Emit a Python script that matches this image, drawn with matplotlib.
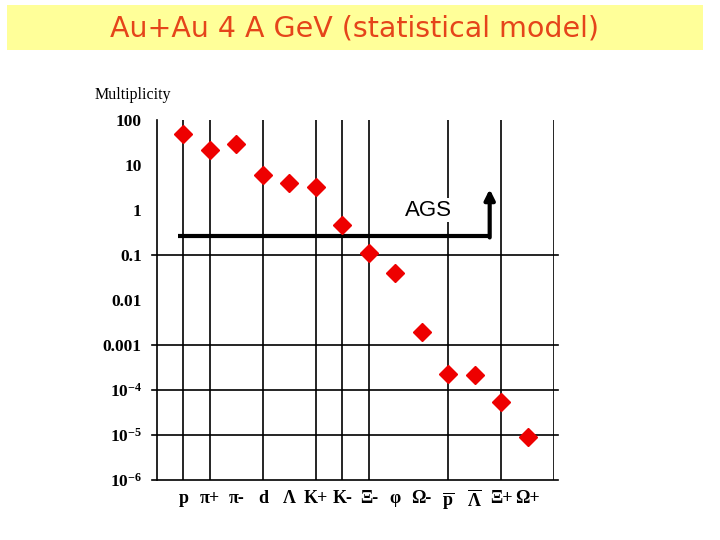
import matplotlib.pyplot as plt
from matplotlib.patches import Rectangle

# particle multiplicities
particles = ["p", "π+", "π-", "d", "Λ", "K+", "K-", "Ξ-", "φ", "Ω-",
             r"$\overline{\mathrm{p}}$", r"$\overline{\mathrm{Λ}}$", "Ξ+", "Ω+"]
multiplicity = [49, 21.5, 29, 6.0, 3.9, 3.3, 0.46, 0.11, 0.039, 0.0019,
                2.3e-4, 2.2e-4, 5.5e-5, 9.2e-6]

ytick_vals = [100, 10, 1, 0.1, 0.01, 0.001, 1e-4, 1e-5, 1e-6]
ytick_labels = ["100", "10", "1", "0.1", "0.01", "0.001",
                r"10$^{-4}$", r"10$^{-5}$", r"10$^{-6}$"]
hgrid = [0.1, 1e-3, 1e-4, 1e-5, 1e-6]
vgrid = [0, 1, 3, 5, 6, 7, 10, 12, 14]

# AGS line (level and arrow end)
ags_level = 0.264
ags_top = 2.9

plt.rcParams['mathtext.fontset'] = 'custom'
plt.rcParams['mathtext.rm'] = 'Liberation Serif:bold'
plt.rcParams['mathtext.it'] = 'Liberation Serif:bold'
plt.rcParams['mathtext.bf'] = 'Liberation Serif:bold'

fig = plt.figure(figsize=(7.2, 5.4), dpi=100)
fig.patch.set_facecolor("white")

# title band
fig.patches.append(Rectangle((7 / 720, 1 - 50 / 540), 696 / 720, 45 / 540,
                             transform=fig.transFigure, facecolor="#FFFF99",
                             edgecolor="none", zorder=0))
fig.text(355 / 720, 1 - 28 / 540, "Au+Au 4 A GeV (statistical model)",
         ha="center", va="center", fontsize=20.5, color="#E5441A",
         family="DejaVu Sans")

ax = fig.add_axes([157 / 720, 60 / 540, 397 / 720, 360 / 540])
ax.set_yscale("log")
ax.set_ylim(1e-6, 100)
ax.set_xlim(-1, 14)

for s in ["top", "right", "bottom"]:
    ax.spines[s].set_visible(False)
ax.spines["left"].set_linewidth(1.2)

for v in vgrid:
    ax.axvline(v, color="black", lw=1.2, zorder=1)
for h in hgrid:
    ax.axhline(h, xmin=-0.013, xmax=1.01, color="black", lw=1.2,
               clip_on=False, zorder=1)

ax.set_yticks(ytick_vals)
ax.set_yticklabels(ytick_labels)
ax.minorticks_off()
ax.tick_params(axis="y", length=0, pad=11)
ax.set_xticks(range(len(particles)))
ax.set_xticklabels(particles)
ax.tick_params(axis="x", length=0, pad=7)
for lab in ax.get_yticklabels():
    lab.set_family("Liberation Serif")
    lab.set_fontweight("bold")
    lab.set_fontsize(12.5)
for lab in ax.get_xticklabels():
    lab.set_family("Liberation Serif")
    lab.set_fontweight("bold")
    lab.set_fontsize(13)

ax.plot(range(len(particles)), multiplicity, linestyle="none", marker="D",
        markersize=9, color="#EE0000", markeredgecolor="#EE0000", zorder=4)

# AGS threshold line with arrow
ax.plot([-0.2, 11.57], [ags_level, ags_level], color="black", lw=3,
        solid_capstyle="butt", zorder=3)
ax.annotate("", xy=(11.57, ags_top), xytext=(11.57, ags_level * 0.93),
            arrowprops=dict(arrowstyle="-|>,head_width=0.3,head_length=0.6",
                            color="black", lw=3, shrinkA=0, shrinkB=0),
            zorder=3)
ax.text(9.26, 1.0, "AGS", ha="center", va="center", fontsize=16,
        family="Liberation Sans", zorder=2,
        bbox=dict(facecolor="white", edgecolor="none", pad=1))

fig.text(133 / 720, 1 - 95 / 540, "Multiplicity", ha="center", va="center",
         fontsize=11.5, family="Liberation Serif")

fig.savefig("out.png", dpi=100)
